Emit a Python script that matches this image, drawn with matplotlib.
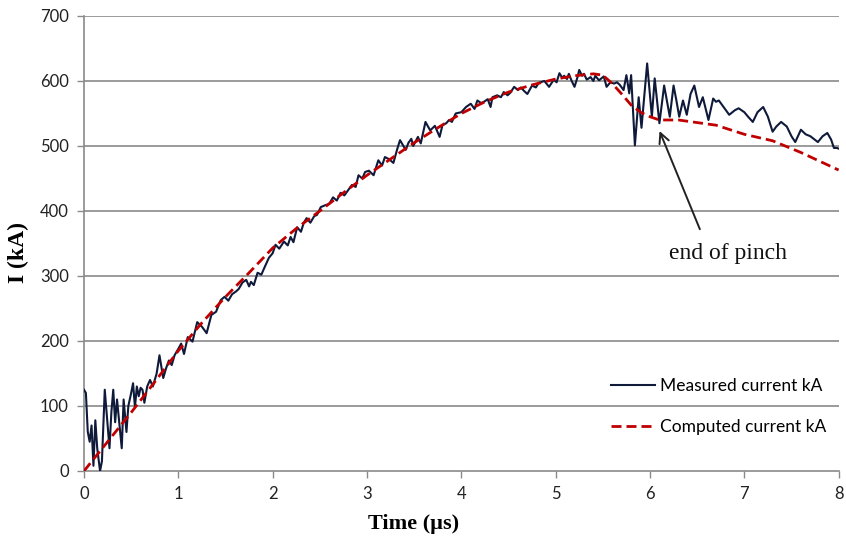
import matplotlib
matplotlib.use("Agg")
import matplotlib.pyplot as plt

# Measured current (kA) vs time (us)
t_meas = [0.00, 0.02, 0.04, 0.06, 0.08, 0.10, 0.12, 0.14, 0.17, 0.19, 0.22, 0.25, 0.27, 0.29,
          0.31, 0.33, 0.35, 0.37, 0.40, 0.42, 0.45, 0.47, 0.50, 0.52, 0.54, 0.56, 0.58, 0.60,
          0.62, 0.64, 0.67, 0.70, 0.73, 0.77, 0.80, 0.84, 0.87, 0.90, 0.93, 0.96, 1.00, 1.03,
          1.06, 1.10, 1.15, 1.20, 1.25, 1.30, 1.35, 1.40, 1.45, 1.49, 1.53, 1.57, 1.61, 1.64,
          1.68, 1.72, 1.75, 1.77, 1.80, 1.84, 1.88, 1.91, 1.96, 2.00, 2.03, 2.07, 2.12, 2.16,
          2.19, 2.22, 2.26, 2.30, 2.33, 2.36, 2.40, 2.44, 2.47, 2.51, 2.56, 2.60, 2.64, 2.68,
          2.72, 2.76, 2.80, 2.84, 2.88, 2.91, 2.95, 2.98, 3.02, 3.07, 3.12, 3.16, 3.19, 3.23,
          3.28, 3.32, 3.35, 3.41, 3.44, 3.47, 3.49, 3.54, 3.57, 3.62, 3.67, 3.72, 3.77, 3.80,
          3.84, 3.87, 3.90, 3.94, 4.00, 4.05, 4.10, 4.14, 4.17, 4.21, 4.24, 4.28, 4.31, 4.33,
          4.38, 4.42, 4.45, 4.49, 4.52, 4.56, 4.60, 4.63, 4.67, 4.70, 4.75, 4.79, 4.82, 4.88,
          4.93, 4.98, 5.01, 5.04, 5.07, 5.09, 5.12, 5.14, 5.17, 5.20, 5.23, 5.25, 5.28, 5.30,
          5.33, 5.37, 5.40, 5.42, 5.46, 5.51, 5.54, 5.58, 5.62, 5.65, 5.68, 5.72, 5.75, 5.78,
          5.80, 5.84, 5.88, 5.91, 5.97, 6.02, 6.05, 6.10, 6.15, 6.21, 6.25, 6.28, 6.31, 6.35,
          6.39, 6.43, 6.47, 6.52, 6.56, 6.62, 6.67, 6.70, 6.73, 6.78, 6.84, 6.90, 6.94, 7.00,
          7.04, 7.09, 7.14, 7.20, 7.25, 7.30, 7.34, 7.39, 7.45, 7.50, 7.54, 7.60, 7.65, 7.70,
          7.78, 7.83, 7.88, 7.92, 7.95, 7.98, 8.00]
i_meas = [125, 120, 60, 45, 70, 8, 78, 35, 0, 15, 125, 70, 35, 90,
          125, 75, 110, 80, 35, 110, 60, 100, 120, 135, 98, 130, 115, 128,
          125, 105, 130, 140, 130, 150, 178, 143, 158, 170, 163, 178, 188, 196,
          180, 206, 199, 229, 222, 212, 240, 245, 263, 268, 262, 272, 276, 280,
          290, 294, 284, 291, 286, 305, 302, 312, 328, 335, 348, 342, 353, 347,
          360, 352, 375, 368, 382, 389, 382, 392, 394, 406, 409, 411, 421, 416,
          428, 424, 432, 440, 437, 455, 450, 460, 462, 455, 478, 470, 483, 480,
          474, 495, 509, 494, 505, 511, 500, 514, 504, 537, 524, 531, 514, 532,
          535, 540, 537, 550, 552, 560, 565, 557, 570, 566, 568, 572, 560, 575,
          578, 575, 583, 578, 582, 591, 586, 590, 584, 580, 593, 590, 597, 600,
          591, 602, 598, 612, 605, 608, 603, 611, 600, 591, 605, 617, 608, 611,
          602, 606, 600, 608, 601, 607, 591, 598, 596, 598, 594, 586, 609, 581,
          609, 501, 575, 528, 627, 545, 604, 535, 593, 545, 593, 570, 545, 570,
          548, 580, 593, 560, 575, 540, 573, 568, 570, 560, 548, 555, 558, 552,
          545, 537, 552, 560, 545, 522, 530, 537, 530, 515, 506, 525, 518, 515,
          506, 515, 520, 510, 497, 497, 496]

# Computed current (kA)
t_comp = [0, 0.25, 0.5, 0.75, 1.0, 1.25, 1.5, 1.75, 2.0, 2.25, 2.5, 2.75, 3.0, 3.25, 3.5,
          3.75, 4.0, 4.25, 4.5, 4.75, 5.0, 5.2, 5.4, 5.5, 5.6, 5.7, 5.8, 5.9, 6.0, 6.1,
          6.2, 6.3, 6.5, 6.7, 7.0, 7.3, 7.6, 8.0]
i_comp = [0, 45, 90, 137, 185, 228, 268, 305, 343, 373, 400, 428, 455, 480, 505,
          528, 550, 568, 583, 594, 603, 608, 611, 609, 596, 580, 563, 552, 545, 540,
          540, 540, 536, 532, 518, 508, 490, 463]

x_ticks = [0, 1, 2, 3, 4, 5, 6, 7, 8]
y_ticks = [0, 100, 200, 300, 400, 500, 600, 700]

fig = plt.figure(figsize=(8.46, 5.40), dpi=100)
ax = fig.add_axes([0.0993, 0.1278, 0.8920, 0.8426])

grid_c = "#8a8a8a"
for y in y_ticks[1:]:
    ax.axhline(y, color=grid_c, lw=1.2, zorder=0)

ax.plot(t_meas, i_meas, color="#0f1a3a", lw=1.5, label="Measured current kA", zorder=3)
ax.plot(t_comp, i_comp, color="#c00000", lw=2.0, ls=(0, (3.6, 1.8)),
        label="Computed current kA", zorder=4)

ax.set_xlim(0, 8)
ax.set_ylim(0, 700)
ax.set_xticks(x_ticks)
ax.set_yticks(y_ticks)
tick_font = dict(family="Lato", size=12)
ax.set_xticklabels([str(v) for v in x_ticks], fontdict=tick_font)
ax.set_yticklabels([str(v) for v in y_ticks], fontdict=tick_font)
ax.tick_params(axis="both", direction="out", length=5, width=1, color=grid_c,
               labelcolor="#222222")
ax.tick_params(axis="x", pad=6)
ax.tick_params(axis="y", pad=6)

for s in ["top", "right"]:
    ax.spines[s].set_visible(False)
for s in ["left", "bottom"]:
    ax.spines[s].set_color(grid_c)
    ax.spines[s].set_linewidth(1.2)

ax.set_xlabel("Time (\u00b5s)", family="Liberation Serif", weight="bold", size=16)
ax.xaxis.set_label_coords(0.437, -0.095)
ax.set_ylabel("I (kA)", family="Liberation Serif", weight="bold", size=17)
ax.yaxis.set_label_coords(-0.073, 0.48)

leg = ax.legend(loc="upper left", bbox_to_anchor=(0.678, 0.238), frameon=False,
                prop=dict(family="Lato", size=12.5), handlelength=2.5, handletextpad=0.3,
                labelspacing=1.45)

ax.annotate("", xy=(6.09, 527), xytext=(6.54, 368),
            arrowprops=dict(arrowstyle="->", color="#222222", lw=1.4,
                            mutation_scale=18), zorder=5)
ax.text(6.2, 335, "end of pinch", family="Liberation Serif", size=17, va="center",
        ha="left", color="#111111")

fig.savefig("out.png", dpi=100)
